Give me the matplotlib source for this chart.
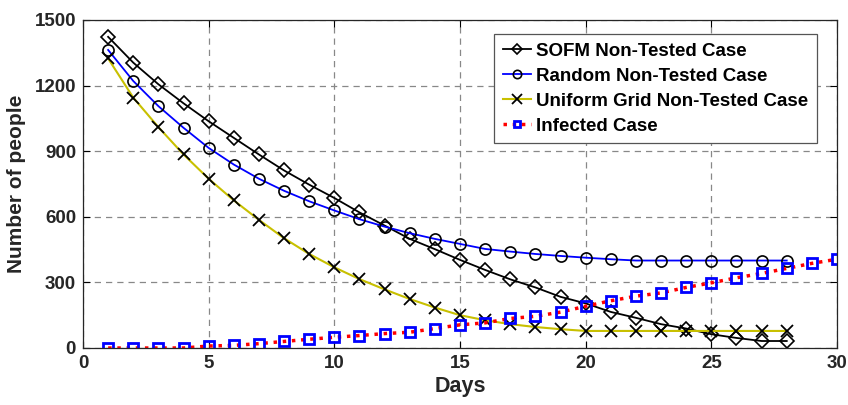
import matplotlib
matplotlib.use("Agg")
import matplotlib.pyplot as plt

plt.rcParams["font.family"] = ["Liberation Sans", "DejaVu Sans"]
plt.rcParams["font.weight"] = "bold"

# 数据
days = list(range(1, 29))
days_infected = list(range(1, 31))

sofm = [1423, 1305, 1206, 1119, 1037, 961, 885, 812, 747, 686,
        620, 560, 499, 452, 403, 357, 314, 277, 234, 204,
        165, 138, 109, 89, 63, 46, 32, 32]
random_case = [1363, 1221, 1106, 1007, 915, 839, 774, 719, 671, 629,
               589, 555, 525, 499, 476, 453, 441, 430, 421, 413,
               406, 400, 400, 400, 400, 400, 400, 400]
uniform = [1324, 1145, 1010, 885, 774, 675, 586, 502, 430, 369,
           315, 268, 224, 185, 150, 127, 109, 96, 86, 78,
           78, 78, 78, 78, 78, 78, 78, 78]
infected = [0, 0, 0, 0, 9, 12, 20, 30, 40, 49,
            57, 66, 72, 89, 106, 115, 135, 145, 164, 191,
            216, 237, 252, 277, 298, 321, 341, 364, 387, 406]

fig = plt.figure(figsize=(8.48, 4.05), dpi=100)
ax = fig.add_axes([83 / 848, 1 - 348 / 405, (837 - 83) / 848, (348 - 20) / 405])

ax.plot(days, sofm, color="black", linewidth=1.3, marker="D", markersize=7,
        markerfacecolor="none", markeredgecolor="black", markeredgewidth=1.2,
        label="SOFM Non-Tested Case")
ax.plot(days, random_case, color="blue", linewidth=1.3, marker="o", markersize=8,
        markerfacecolor="none", markeredgecolor="black", markeredgewidth=1.2,
        label="Random Non-Tested Case")
ax.plot(days, uniform, color="#c8c000", linewidth=1.5, marker="x", markersize=9,
        markeredgecolor="black", markeredgewidth=1.3,
        label="Uniform Grid Non-Tested Case")
ax.plot(days_infected, infected, color="red", linewidth=2.5, linestyle=":",
        marker="s", markersize=6.5, markerfacecolor="none", markeredgecolor="blue",
        markeredgewidth=2, label="Infected Case")

ax.set_xlim(0, 30)
ax.set_ylim(0, 1500)
ax.set_xticks(range(0, 31, 5))
ax.set_yticks(range(0, 1501, 300))
ax.tick_params(direction="in", top=True, right=True, labelsize=13.5, length=5,
               width=0.8, labelcolor="#262626", pad=5)
for lab in ax.get_xticklabels() + ax.get_yticklabels():
    lab.set_fontweight("bold")
ax.grid(True, linestyle=(0, (5, 4)), color="#888888", linewidth=0.9)
for sp in ax.spines.values():
    sp.set_color("#262626")
    sp.set_linewidth(0.9)

ax.set_xlabel("Days", fontsize=15.5, fontweight="bold", labelpad=3, color="#262626")
ax.set_ylabel("Number of people", fontsize=15, fontweight="bold", labelpad=6, color="#262626")

leg = ax.legend(loc="upper right", bbox_to_anchor=(0.9735, 0.957),
                prop={"weight": "bold", "size": 13.5}, handlelength=1.5,
                handletextpad=0.3, labelspacing=0.42, borderpad=0.45,
                borderaxespad=0, fancybox=False, framealpha=1, markerscale=0.75)
leg.get_frame().set_edgecolor("#555555")
leg.get_frame().set_linewidth(0.9)

fig.savefig("out.png", dpi=100, facecolor="white")
